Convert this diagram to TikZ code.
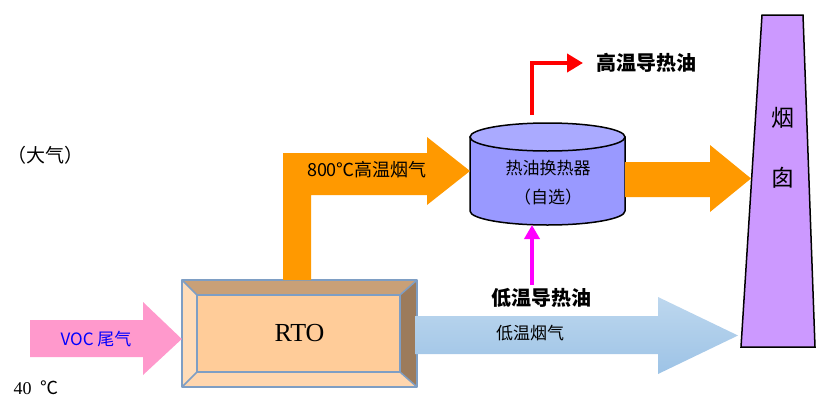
\documentclass[tikz,border=0pt]{standalone}
\usepackage{fontspec}
\setmainfont{Noto Sans CJK SC}
\newfontfamily\serifface{Liberation Serif}
\usetikzlibrary{arrows.meta}
\definecolor{vocpink}{HTML}{FF99CC}
\definecolor{flueorange}{HTML}{FF9900}
\definecolor{rtofill}{HTML}{FFCC99}
\definecolor{rtotop}{HTML}{C9A077}
\definecolor{rtoleft}{HTML}{FFDCB8}
\definecolor{rtobottom}{HTML}{FFD6AE}
\definecolor{rtoright}{HTML}{9C7B5B}
\definecolor{rtoline}{HTML}{7E9EC4}
\definecolor{hxbody}{HTML}{9999FF}
\definecolor{hxtop}{HTML}{AAAAFF}
\definecolor{stackfill}{HTML}{CC99FF}
\definecolor{coldtop}{HTML}{BDD7EE}
\definecolor{coldbot}{HTML}{9DC3E6}
\definecolor{oilcold}{HTML}{FF00FF}
\definecolor{oilhot}{HTML}{FF0000}
\tikzset{
	bevel/.style={draw=rtoline,line width=1.5pt,line join=round},
	oilpipe/.style={line width=4pt,-{Triangle[length=16pt,width=18pt]}},
	label/.style={inner sep=0pt,font=\fontsize{18}{20}\selectfont},
	boldlabel/.style={inner sep=0pt,font=\fontsize{20}{22}\selectfont\bfseries},
}
\begin{document}
\begin{tikzpicture}[x=1pt,y=-1pt]
	\useasboundingbox (0,0) rectangle (816,399);
	
	%chimney
	\filldraw[fill=stackfill,line width=1.5pt] (762,15)--(803,15)--(815,347)--(741,347)--cycle;
	\node[inner sep=0pt,align=center,font=\fontsize{23}{60}\selectfont] (chimney) at (783,148) {烟\\囱};
	
	%RTO, bevelled box
	\fill[rtotop]    (182,280)--(417,280)--(400,295)--(197,295)--cycle;
	\fill[rtoleft]   (182,280)--(197,295)--(197,372)--(182,387)--cycle;
	\fill[rtobottom] (182,387)--(197,372)--(400,372)--(417,387)--cycle;
	\fill[rtoright]  (417,280)--(400,295)--(400,372)--(417,387)--cycle;
	\filldraw[bevel,fill=rtofill] (197,295) rectangle (400,372);
	\draw[bevel] (182,280) rectangle (417,387);
	\draw[bevel] (182,280)--(197,295) (417,280)--(400,295) (182,387)--(197,372) (417,387)--(400,372);
	\node[inner sep=0pt,minimum width=235,minimum height=107,font=\serifface\fontsize{26}{28}\selectfont] (rto) at (299.5,333.5) {RTO};
	
	%heat exchanger, cylinder
	\filldraw[fill=hxbody,line width=1.5pt] (470,137)--(470,211) arc[start angle=180,end angle=360,x radius=77.5,y radius=-14]--(625,137)--cycle;
	\filldraw[fill=hxtop,line width=1.5pt] (547.5,137) ellipse[x radius=77.5,y radius=14];
	\node[label,font=\fontsize{17}{19}\selectfont] (hx) at (548,168) {热油换热器};
	\node[label,font=\fontsize{17}{19}\selectfont] (hxnote) at (548,197) {（自选）};
	
	%VOC inlet
	\fill[vocpink] (30,320)--(143,320)--(143,302)--(rto.west|-0,339)--(143,375)--(143,357)--(30,357)--cycle;
	\node[label,text=blue,font=\fontsize{17}{19}\selectfont] (voc) at (96,339) {VOC 尾气};
	\node[label,font=\fontsize{18}{20}\selectfont] (temp) at (36,388) {{\serifface 40}\enspace ℃};
	\node[label,font=\fontsize{19}{21}\selectfont] (atm) at (45,155) {（大气）};
	
	%hot flue gas, RTO -> heat exchanger -> chimney
	\fill[flueorange] (283,280)--(283,153)--(427,153)--(427,137)--(470,171)--(427,205)--(427,195)--(311,195)--(311,280)--cycle;
	\node[label] (hotgas) at (367,170) {800℃高温烟气};
	\fill[flueorange] (625,162)--(710,162)--(710,145)--(751,178.5)--(710,212)--(710,197)--(625,197)--cycle;
	
	%cold flue gas
	\shade[top color=coldtop,bottom color=coldbot] (415,316)--(658,316)--(658,297)--(738,335.5)--(658,374)--(658,354)--(415,354)--cycle;
	\node[label,font=\fontsize{17}{19}\selectfont] (coldgas) at (530,333) {低温烟气};
	
	%thermal oil
	\coordinate (oilout) at (532,115);
	\coordinate (oilin)  at (532,285);
	\node[boldlabel,anchor=west] (hotoil) at (596,63) {高温导热油};
	\node[boldlabel] (coldoil) at (541,298) {低温导热油};
	\draw[oilpipe,oilhot] (oilout) |- ([xshift=-13pt]hotoil.west);
	\draw[oilpipe,oilcold,-{Triangle[length=14pt,width=15pt]}] (oilin)--(532,225);
\end{tikzpicture}
\end{document}
